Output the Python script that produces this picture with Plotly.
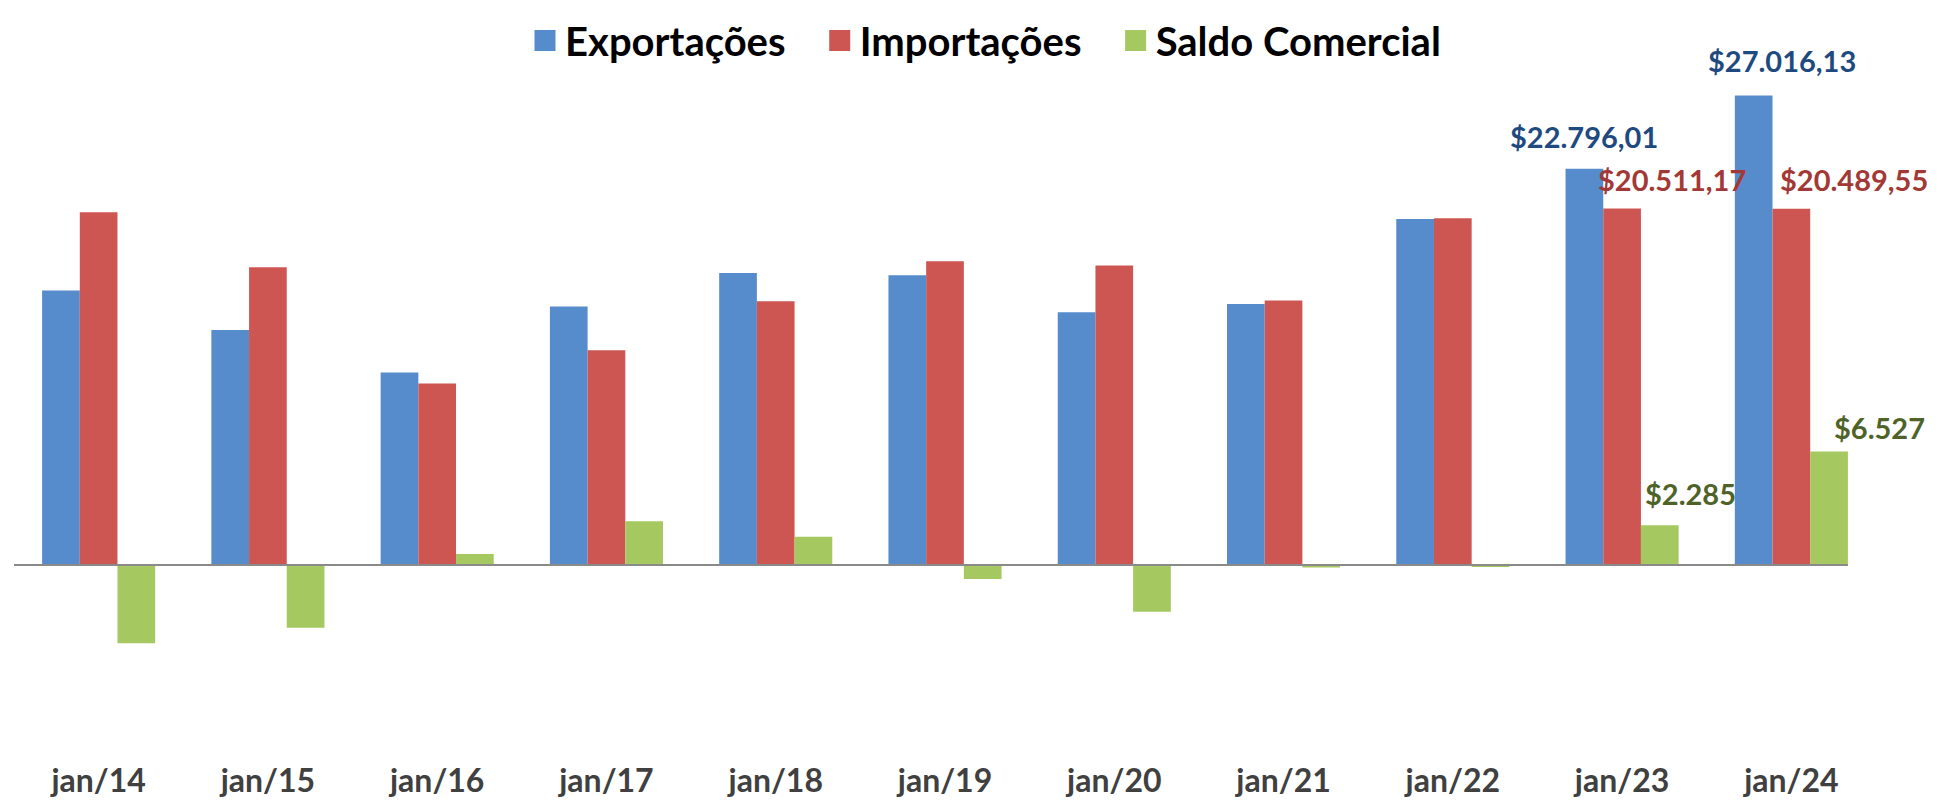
import plotly.graph_objects as go

categories = ["jan/14", "jan/15", "jan/16", "jan/17", "jan/18", "jan/19",
              "jan/20", "jan/21", "jan/22", "jan/23", "jan/24"]
exportacoes = [15785, 13522, 11070, 14865, 16802, 16668, 14538, 15018, 19909, 22796.01, 27016.13]
importacoes = [20293, 17128, 10440, 12352, 15172, 17473, 17224, 15210, 19947, 20511.17, 20489.55]
saldo = [-4508, -3606, 630, 2513, 1630, -805, -2686, -150, -60, 2285, 6527]

series_names = ["Exportações", "Importações", "Saldo Comercial"]
bar_colors = ["#568BCC", "#CD5653", "#A6C860"]
label_colors = ["#1F4A80", "#A33936", "#4F6328"]

# labelled points: (series index, category index, text)
labels = [
    (0, 9, "$22.796,01"), (1, 9, "$20.511,17"), (2, 9, "$2.285"),
    (0, 10, "$27.016,13"), (1, 10, "$20.489,55"), (2, 10, "$6.527"),
]
# pixel offsets of each label relative to its bar top (style, not data)
label_shift = [(0, 32), (50, 29), (31, 32), (28, 35), (63, 29), (50, 24)]

FONT = "Lato"
bargap = 0.332
w = (1 - bargap) / 3
legend_pad = "\u00a0\u00a0\u00a0"

fig = go.Figure()
values = [exportacoes, importacoes, saldo]
for name, vals, col in zip(series_names, values, bar_colors):
    fig.add_trace(go.Bar(x=categories, y=vals, name=name, marker=dict(color=col, line=dict(width=0)),
                         showlegend=False, hoverinfo="skip"))
# legend entries with larger square swatches
for i, (name, col) in enumerate(zip(series_names, bar_colors)):
    shown = name + (legend_pad if i < len(series_names) - 1 else "")
    fig.add_trace(go.Scatter(x=[categories[0]], y=[None], mode="markers", name=shown,
                             marker=dict(symbol="square", size=16, color=col,
                                         line=dict(color=col, width=5))))

for (s, c, txt), (dx, dy) in zip(labels, label_shift):
    fig.add_annotation(x=c + (s - 1) * w, y=values[s][c], xref="x", yref="y",
                       text=txt, showarrow=False, xshift=dx, yshift=dy,
                       font=dict(family=FONT, size=29, color=label_colors[s], weight="bold"))

fig.add_shape(type="line", xref="x", yref="y", x0=-0.5, x1=len(categories) - 1 + 1.5 * w,
              y0=0, y1=0, line=dict(color="#8A8A8A", width=2), layer="above")

fig.update_layout(
    width=1948, height=802,
    paper_bgcolor="white", plot_bgcolor="white",
    margin=dict(l=6, r=80, t=31, b=51, autoexpand=False),
    barmode="group", bargap=bargap, bargroupgap=0,
    legend=dict(orientation="h", xref="container", yref="container", x=0.2654, y=1.0,
                xanchor="left", yanchor="top", tracegroupgap=0,
                font=dict(family=FONT, size=40, color="#000000", weight="bold"),
                itemsizing="trace", bgcolor="rgba(0,0,0,0)"),
    xaxis=dict(range=[-0.5, len(categories) - 0.5], showgrid=False, showline=False,
               zeroline=False, ticks="", automargin=False,
               tickfont=dict(family=FONT, size=32, color="#404040", weight="bold")),
    yaxis=dict(range=[-11161, 30261], showgrid=False, showline=False, zeroline=False,
               showticklabels=False, ticks="", automargin=False),
)

fig.write_html("out.html")
